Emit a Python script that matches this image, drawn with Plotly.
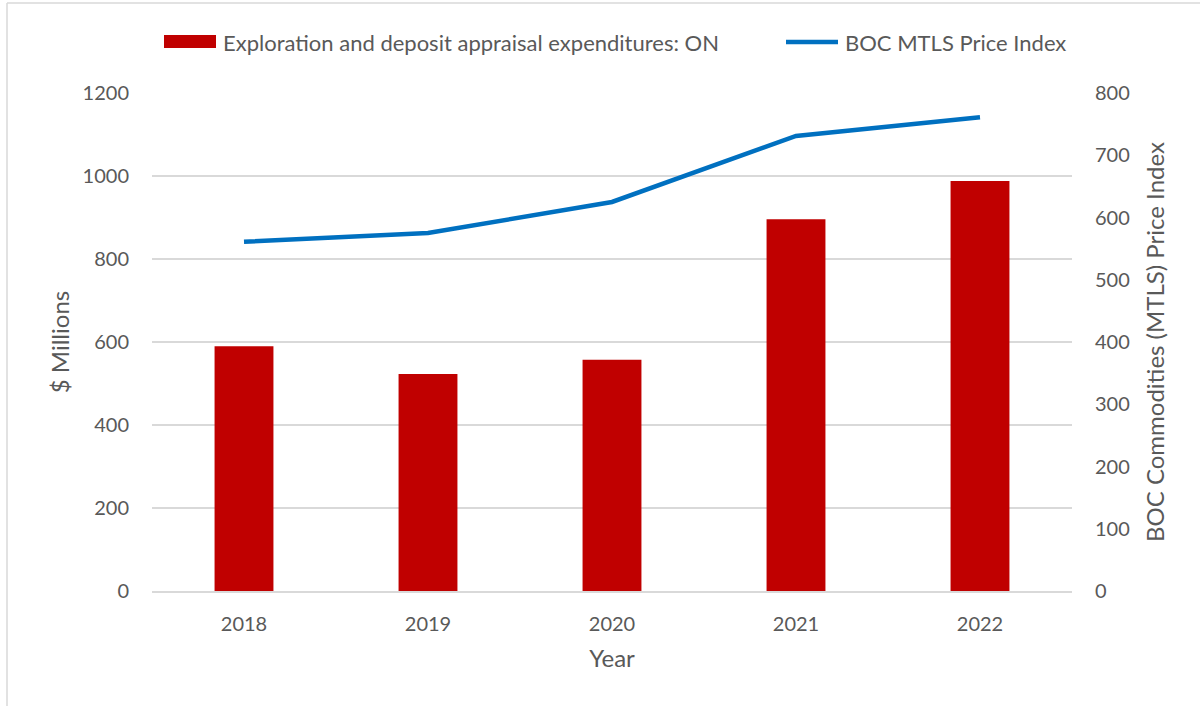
import plotly.graph_objects as go

years = ["2018", "2019", "2020", "2021", "2022"]
expenditures = [590, 523, 557, 896, 988]
price_index = [561, 575, 625, 731, 761]

bar_name = "Exploration and deposit appraisal expenditures: ON"
line_name = "BOC MTLS Price Index"

FONT = "Lato, Calibri, 'Noto Sans', sans-serif"
TXT = "#595959"

L, R, T, B = 152, 128, 93, 115
W, H = 1200, 706
pw, ph = W - L - R, H - T - B

fig = go.Figure()
fig.add_trace(go.Bar(x=years, y=expenditures, name=bar_name,
                     marker=dict(color="#C00000", line=dict(width=0)),
                     width=0.32, yaxis="y", showlegend=False))
fig.add_trace(go.Scatter(x=years, y=price_index, name=line_name, mode="lines",
                         line=dict(color="#0070C0", width=4.5), yaxis="y2",
                         showlegend=False))

fig.update_layout(
    width=W, height=H,
    margin=dict(l=L, r=R, t=T, b=B),
    paper_bgcolor="white", plot_bgcolor="white",
    font=dict(family=FONT, size=20, color=TXT),
    xaxis=dict(type="category", showgrid=False, showline=True, linecolor="#D9D9D9",
               linewidth=1.5, ticks="", ticklabelstandoff=14,
               tickfont=dict(size=20, color=TXT),
               title=dict(text="Year", font=dict(size=24, color=TXT), standoff=16)),
    yaxis=dict(range=[0, 1200], dtick=200, showgrid=True, gridcolor="#D9D9D9",
               gridwidth=1.5, zeroline=False, ticks="", ticklabelstandoff=22,
               tickfont=dict(size=20, color=TXT),
               title=dict(text="$ Millions", font=dict(size=24, color=TXT), standoff=6)),
    yaxis2=dict(range=[0, 800], dtick=100, overlaying="y", side="right",
                showgrid=False, zeroline=False, ticks="", ticklabelstandoff=22,
                tickfont=dict(size=20, color=TXT),
                title=dict(text="BOC Commodities (MTLS) Price Index",
                           font=dict(size=24, color=TXT), standoff=18)),
    bargap=0.68,
)

def px(xp):
    return (xp - L) / pw

def py(yp):
    return (H - B - yp) / ph

shapes = [
    dict(type="line", xref="paper", yref="paper", x0=px(7), x1=px(7), y0=py(3), y1=py(706),
         line=dict(color="#D9D9D9", width=1.5)),
    dict(type="line", xref="paper", yref="paper", x0=px(7), x1=px(1200), y0=py(3), y1=py(3),
         line=dict(color="#D9D9D9", width=1.5)),
    # legend swatches
    dict(type="rect", xref="paper", yref="paper", x0=px(164), x1=px(216), y0=py(48), y1=py(35),
         fillcolor="#C00000", line=dict(width=0)),
    dict(type="line", xref="paper", yref="paper", x0=px(786), x1=px(838), y0=py(42), y1=py(42),
         line=dict(color="#0070C0", width=4.5)),
]
annotations = [
    dict(xref="paper", yref="paper", x=px(221), y=py(42), text=bar_name, showarrow=False,
         xanchor="left", yanchor="middle", font=dict(size=22, color=TXT)),
    dict(xref="paper", yref="paper", x=px(843), y=py(42), text=line_name, showarrow=False,
         xanchor="left", yanchor="middle", font=dict(size=22, color=TXT)),
]
fig.update_layout(shapes=shapes, annotations=annotations)

fig.write_html("out.html")
